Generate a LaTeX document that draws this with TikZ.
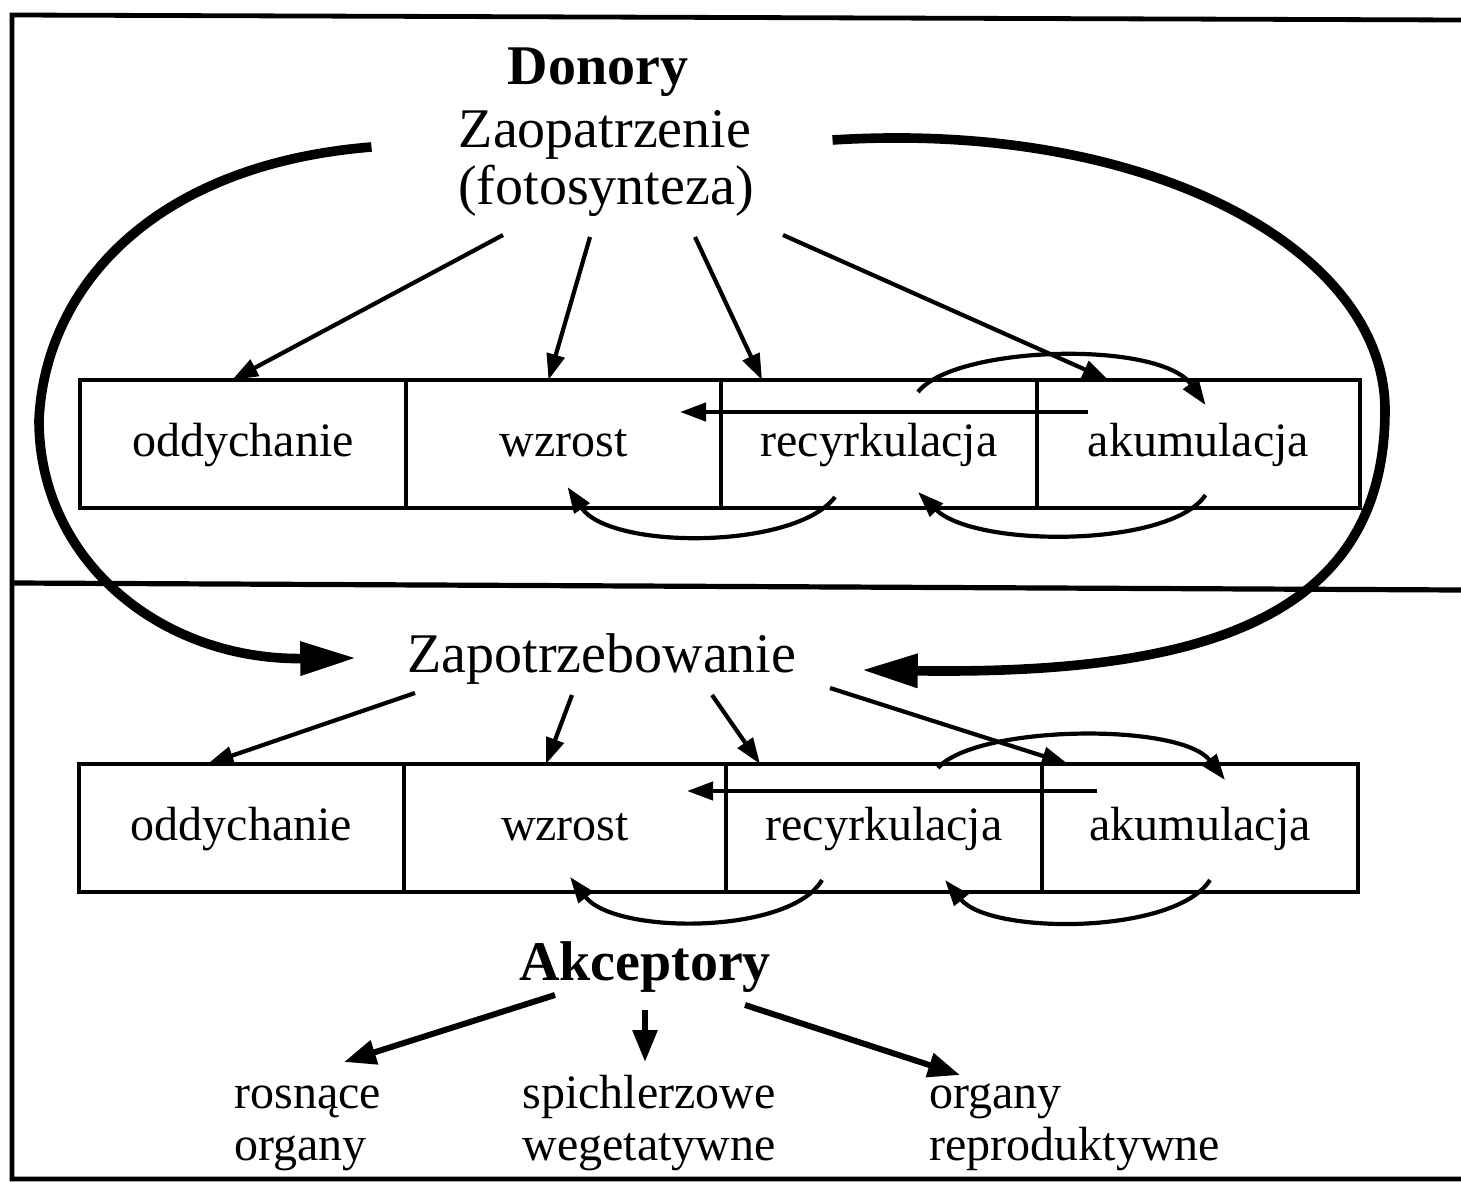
\documentclass[tikz,border=0pt]{standalone}
\usepackage{fontspec}
\setmainfont{Liberation Serif}
\usetikzlibrary{positioning,arrows.meta}
\begin{document}
\begin{tikzpicture}[x=0.5pt,y=-0.5pt,
  cell/.style={draw,line width=2pt,outer sep=0pt,inner sep=0pt,minimum height=64pt,text height=17pt,text depth=5pt,font=\fontsize{24}{26}\selectfont},
  head/.style={inner sep=0pt,anchor=base,font=\fontsize{28}{30}\selectfont},
  leaf/.style={inner sep=0pt,anchor=base west,align=left,font=\fontsize{24}{26}\selectfont},
  arr/.style={line width=2.1pt,-{Triangle[length=13pt,width=9pt]}},
  bigarr/.style={line width=4.8pt,-{Triangle[length=28pt,width=16pt]}},
  accarr/.style={line width=3pt,-{Triangle[length=16pt,width=12pt]}}]
\useasboundingbox (0,0) rectangle (1461,1182);
\draw[line width=2.4pt] (1461,20) -- (12,15) -- (12,1179) -- (1461,1179);
\draw[line width=2.6pt] (14,583) -- (1461,590);

\node[head,font=\fontsize{28}{30}\selectfont\bfseries] (don) at (598,85) {Donory};
\node[head] (zao) at (605,148) {Zaopatrzenie};
\node[head] (fot) at (606,205) {(fotosynteza)};

\node[cell,minimum width=163pt] (odd1) at (243,444) {oddychanie};
\node[cell,minimum width=157.5pt,right=0pt of odd1] (wz1) {wzrost};
\node[cell,minimum width=158pt,right=0pt of wz1] (rec1) {recyrkulacja};
\node[cell,minimum width=161.5pt,right=0pt of rec1] (ak1) {akumulacja};

\draw[arr] ([shift={(-103,30)}]fot.base) -- ([shift={(-11,0)}]odd1.north);
\draw[arr] ([shift={(-16,32)}]fot.base) -- ([shift={(-15,0)}]wz1.north);
\draw[arr] ([shift={(89,32)}]fot.base) -- ([shift={(-117,0)}]rec1.north);
\draw[arr] ([shift={(177,30)}]fot.base) -- ([shift={(-90,0)}]ak1.north);
\draw[arr] ([shift={(39,12)}]rec1.north) .. controls (955,345) and (1160,340) .. ([shift={(7,25)}]ak1.north);
\draw[arr] ([shift={(51,32)}]ak1.north west) -- ([shift={(-41,32)}]wz1.north east);
\draw[arr] ([shift={(-44,-11)}]rec1.south) .. controls (795,550) and (610,550) .. ([shift={(4,-21)}]wz1.south);
\draw[arr] ([shift={(7,-13)}]ak1.south) .. controls (1170,548) and (975,548) .. ([shift={(39,-16)}]rec1.south);

\node[head] (zap) at (602,672) {Zapotrzebowanie};

\draw[bigarr] ([shift={(-87,-1)}]zao.base west) .. controls (150,165) and (45,290) .. (39,420) .. controls (39,560) and (160,660) .. ([shift={(-51,-14)}]zap.base west);
\draw[bigarr] ([shift={(81,-8)}]zao.base east) .. controls (1150,120) and (1385,250) .. (1385,410) .. controls (1385,620) and (1200,675) .. ([shift={(65,-2)}]zap.base east);

\node[cell,minimum width=162.5pt] (odd2) at (241.5,828) {oddychanie};
\node[cell,minimum width=161pt,right=0pt of odd2] (wz2) {wzrost};
\node[cell,minimum width=158pt,right=0pt of wz2] (rec2) {recyrkulacja};
\node[cell,minimum width=158pt,right=0pt of rec2] (ak2) {akumulacja};

\draw[arr] ([shift={(-187,21)}]zap.base) -- ([shift={(-34,0)}]odd2.north);
\draw[arr] ([shift={(-30,23)}]zap.base) -- ([shift={(-19,0)}]wz2.north);
\draw[arr] ([shift={(110,23)}]zap.base) -- ([shift={(-124,0)}]rec2.north);
\draw[arr] ([shift={(228,16)}]zap.base) -- ([shift={(-132,0)}]ak2.north);
\draw[arr] ([shift={(54,4)}]rec2.north) .. controls (975,725) and (1180,722) .. ([shift={(25,16)}]ak2.north);
\draw[arr] ([shift={(55,27)}]ak2.north west) -- ([shift={(-39,27)}]wz2.north east);
\draw[arr] ([shift={(-62,-12)}]rec2.south) .. controls (790,935) and (615,935) .. ([shift={(5,-15)}]wz2.south);
\draw[arr] ([shift={(10,-12)}]ak2.south) .. controls (1175,935) and (990,935) .. ([shift={(61,-12)}]rec2.south);

\node[head,font=\fontsize{28}{30}\selectfont\bfseries] (akc) at (645,980) {Akceptory};
\node[leaf] (ros) at (234,1160) {rosnące\\organy};
\node[leaf] (spi) at (522,1160) {spichlerzowe\\wegetatywne};
\node[leaf] (org) at (929,1160) {organy\\reproduktywne};

\draw[accarr] ([shift={(-90,15)}]akc.base) -- ([shift={(110,-98)}]ros.base west);
\draw[accarr] ([shift={(0,30)}]akc.base) -- ([shift={(123,-98)}]spi.base west);
\draw[accarr] ([shift={(100,25)}]akc.base) -- ([shift={(31,-85)}]org.base west);
\end{tikzpicture}
\end{document}
